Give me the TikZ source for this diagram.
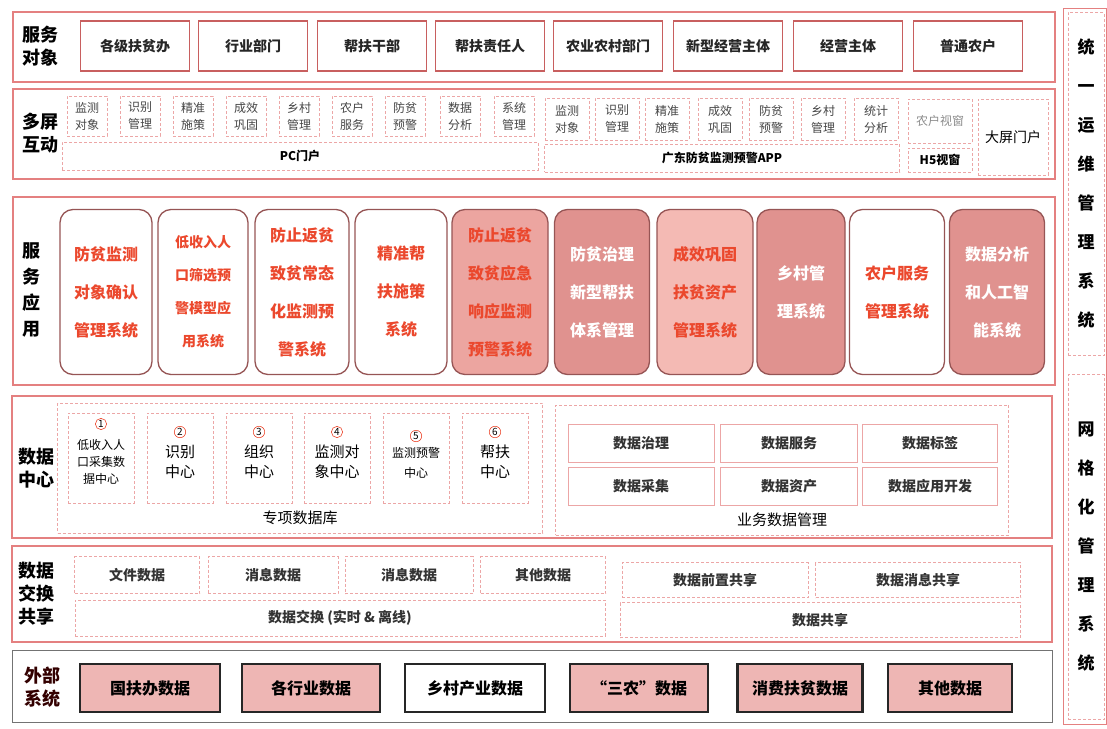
\documentclass[tikz,border=0pt]{standalone}
\usepackage{fontspec}
\setmainfont{Noto Sans CJK SC}
\definecolor{pinkline}{RGB}{228,128,128}
\definecolor{boxline}{RGB}{200,95,95}
\definecolor{appline}{RGB}{150,85,85}
\definecolor{redtext}{RGB}{235,72,45}
\definecolor{appfill}{RGB}{224,146,143}
\definecolor{appfillb}{RGB}{236,165,160}
\definecolor{appfillc}{RGB}{244,186,180}
\definecolor{extfill}{RGB}{238,182,180}
\definecolor{greytext}{RGB}{70,70,70}
\newcommand{\fs}[2]{\fontsize{#1}{#2}\selectfont}

\begin{document}
\begin{tikzpicture}[x=1pt, y=-1pt,
    panel/.style={draw=pinkline, line width=1.4pt},
    rowlab/.style={font=\fs{18}{23}\bfseries, align=center},
    objbox/.style={draw=boxline, line width=1.6pt, minimum width=109, minimum height=50, font=\fs{14}{16}\bfseries, text=black!85},
    tinybox/.style={draw=pinkline!70, densely dashed, line width=0.6pt, minimum width=40, minimum height=40, font=\fs{12}{17}, text=greytext, align=center},
    barbox/.style={draw=pinkline!70, densely dashed, line width=0.6pt, minimum height=28, font=\fs{12}{14}\bfseries},
    appbox/.style={draw=appline, line width=1.3pt, rounded corners=13, minimum height=165, font=\fs{16}{38}\bfseries, align=center},
    grpbox/.style={draw=pinkline!70, densely dashed, line width=0.6pt},
    centerbox/.style={draw=pinkline!70, densely dashed, line width=0.6pt, minimum width=66, minimum height=90, font=\fs{15}{20}, align=center},
    numc/.style={draw=redtext, circle, line width=0.6pt, inner sep=0.8pt, font=\fs{10}{11}},
    mgmtbox/.style={draw=pinkline!70, line width=0.8pt, minimum height=38, font=\fs{14}{16}\bfseries, text=black!80},
    xbox/.style={draw=pinkline!70, densely dashed, line width=0.6pt, minimum height=37, font=\fs{14}{16}\bfseries, text=black!80},
    extbox/.style={draw=black!85, line width=2.2pt, minimum height=48, font=\fs{16}{18}\bfseries},
    sidebox/.style={draw=pinkline!70, densely dashed, line width=0.6pt, minimum width=36, font=\fs{17}{39}\bfseries, align=center}]
\useasboundingbox (0,0) rectangle (1107,728);

% service objects
\draw[panel] (13,12) rectangle (1055,82);
\node[rowlab] (objlab) at (40,46) {服务\\对象};
\node[objbox] (obj1) at (135,46) {各级扶贫办};
\node[objbox] (obj2) at (253,46) {行业部门};
\node[objbox] (obj3) at (372,46) {帮扶干部};
\node[objbox] (obj4) at (490,46) {帮扶责任人};
\node[objbox] (obj5) at (608,46) {农业农村部门};
\node[objbox] (obj6) at (728,46) {新型经营主体};
\node[objbox] (obj7) at (848,46) {经营主体};
\node[objbox] (obj8) at (968,46) {普通农户};

% multi-screen
\draw[panel] (13,89) rectangle (1055,179);
\node[rowlab] (scrlab) at (40,133) {多屏\\互动};
\node[tinybox] (pc1) at (87,116) {监测\\对象};
\node[tinybox] (pc2) at (140,116) {识别\\管理};
\node[tinybox] (pc3) at (193,116) {精准\\施策};
\node[tinybox] (pc4) at (246,116) {成效\\巩固};
\node[tinybox] (pc5) at (299,116) {乡村\\管理};
\node[tinybox] (pc6) at (352,116) {农户\\服务};
\node[tinybox] (pc7) at (405,116) {防贫\\预警};
\node[tinybox] (pc8) at (460,116) {数据\\分析};
\node[tinybox] (pc9) at (514,116) {系统\\管理};
\node[barbox, minimum width=476] (pcbar) at (300,156) {PC门户};
\node[tinybox, minimum width=44, minimum height=42] (ap1) at (567,119) {监测\\对象};
\node[tinybox, minimum width=44, minimum height=42] (ap2) at (617,119) {识别\\管理};
\node[tinybox, minimum width=44, minimum height=42] (ap3) at (667,119) {精准\\施策};
\node[tinybox, minimum width=44, minimum height=42] (ap4) at (720,119) {成效\\巩固};
\node[tinybox, minimum width=44, minimum height=42] (ap5) at (771,119) {防贫\\预警};
\node[tinybox, minimum width=44, minimum height=42] (ap6) at (823,119) {乡村\\管理};
\node[tinybox, minimum width=44, minimum height=42] (ap7) at (876,119) {统计\\分析};
\node[barbox, minimum width=355] (appbar) at (722,158) {广东防贫监测预警APP};
\node[tinybox, minimum width=64, minimum height=44, text=black!45] (hview) at (940,121) {农户视窗};
\node[barbox, minimum width=64, minimum height=24] (h5) at (940,160) {H5视窗};
\node[tinybox, minimum width=70, minimum height=76, font=\fs{14}{16}, text=black] (bigscr) at (1013,137) {大屏门户};

% applications
\draw[panel] (13,197) rectangle (1055,385);
\node[rowlab, font=\fs{18}{26}\bfseries] (applab) at (31,290) {服\\务\\应\\用};
\node[appbox, minimum width=92, text=redtext] (app1) at (106,292) {防贫监测\\对象确认\\管理系统};
\node[appbox, minimum width=90, text=redtext, font=\fs{14}{33}\bfseries] (app2) at (203,292) {低收入人\\口筛选预\\警模型应\\用系统};
\node[appbox, minimum width=94, text=redtext] (app3) at (302,292) {防止返贫\\致贫常态\\化监测预\\警系统};
\node[appbox, minimum width=92, text=redtext] (app4) at (401,292) {精准帮\\扶施策\\系统};
\node[appbox, minimum width=96, fill=appfillb, text=redtext] (app5) at (500,292) {防止返贫\\致贫应急\\响应监测\\预警系统};
\node[appbox, minimum width=95, fill=appfill, text=white] (app6) at (602,292) {防贫治理\\新型帮扶\\体系管理};
\node[appbox, minimum width=96, fill=appfillc, text=redtext] (app7) at (705,292) {成效巩固\\扶贫资产\\管理系统};
\node[appbox, minimum width=88, fill=appfill, text=white] (app8) at (801,292) {乡村管\\理系统};
\node[appbox, minimum width=95, text=redtext] (app9) at (897,292) {农户服务\\管理系统};
\node[appbox, minimum width=95, fill=appfill, text=white] (app10) at (997,292) {数据分析\\和人工智\\能系统};

% data center
\draw[panel] (12,396) rectangle (1052,538);
\node[rowlab] (dclab) at (36,468) {数据\\中心};
\node[grpbox, minimum width=485, minimum height=130] (specdb) at (300,468) {};
\node[font=\fs{15}{17}] (specdblab) at (300,518) {专项数据库};
\node[centerbox, font=\fs{12}{17}] (dc1) at (101,458) {\\低收入人\\口采集数\\据中心};
\node[centerbox] (dc2) at (180,458) {\\识别\\中心};
\node[centerbox] (dc3) at (259,458) {\\组织\\中心};
\node[centerbox] (dc4) at (337,458) {\\监测对\\象中心};
\node[centerbox, font=\fs{12}{20}] (dc5) at (416,458) {\\监测预警\\中心};
\node[centerbox] (dc6) at (495,458) {\\帮扶\\中心};
\node[numc] (num1) at (101,424) {1};
\node[numc] (num2) at (180,432) {2};
\node[numc] (num3) at (259,432) {3};
\node[numc] (num4) at (337,432) {4};
\node[numc] (num5) at (416,436) {5};
\node[numc] (num6) at (495,432) {6};
\node[grpbox, minimum width=453, minimum height=130] (bizdb) at (782,470) {};
\node[font=\fs{15}{17}] (bizdblab) at (782,520) {业务数据管理};
\node[mgmtbox, minimum width=146] (mg1) at (641,443) {数据治理};
\node[mgmtbox, minimum width=137] (mg2) at (789,443) {数据服务};
\node[mgmtbox, minimum width=135] (mg3) at (930,443) {数据标签};
\node[mgmtbox, minimum width=146] (mg4) at (641,486) {数据采集};
\node[mgmtbox, minimum width=137] (mg5) at (789,486) {数据资产};
\node[mgmtbox, minimum width=135] (mg6) at (930,486) {数据应用开发};

% exchange and sharing
\draw[panel] (12,546) rectangle (1052,642);
\node[rowlab, font=\fs{18}{23}\bfseries] (exlab) at (36,594) {数据\\交换\\共享};
\node[xbox, minimum width=125] (ex1) at (137,575) {文件数据};
\node[xbox, minimum width=130] (ex2) at (273,575) {消息数据};
\node[xbox, minimum width=128] (ex3) at (409,575) {消息数据};
\node[xbox, minimum width=125] (ex4) at (543,575) {其他数据};
\node[xbox, minimum width=530, minimum height=36] (exbar) at (340,618) {数据交换 (实时 \& 离线)};
\node[xbox, minimum width=186, minimum height=35] (sh1) at (715,580) {数据前置共享};
\node[xbox, minimum width=205, minimum height=35] (sh2) at (918,580) {数据消息共享};
\node[xbox, minimum width=400, minimum height=35] (shbar) at (820,620) {数据共享};

% external systems
\draw[draw=black!55, line width=1pt] (12,650) rectangle (1052,722);
\node[rowlab, text=black!80!red] (extlab) at (42,687) {外部\\系统};
\node[extbox, minimum width=140, fill=extfill] (ext1) at (150,688) {国扶办数据};
\node[extbox, minimum width=138, fill=extfill] (ext2) at (311,688) {各行业数据};
\node[extbox, minimum width=140] (ext3) at (475,688) {乡村产业数据};
\node[extbox, minimum width=138, fill=extfill] (ext4) at (639,688) {“三农”数据};
\node[extbox, minimum width=125, fill=extfill] (ext5) at (800,688) {消费扶贫数据};
\node[extbox, minimum width=124, fill=extfill] (ext6) at (950,688) {其他数据};

% side systems
\draw[panel, line width=1pt] (1063,8) rectangle (1106,724);
\node[sidebox, minimum height=343] (ops) at (1086,184) {统\\一\\运\\维\\管\\理\\系\\统};
\node[sidebox, minimum height=345] (grid) at (1086,547) {网\\格\\化\\管\\理\\系\\统};
\end{tikzpicture}
\end{document}
